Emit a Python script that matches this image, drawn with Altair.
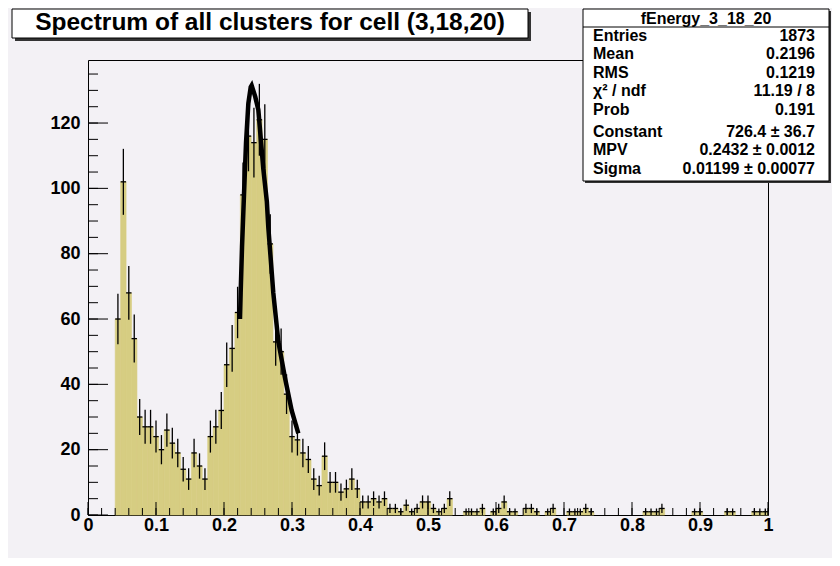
import altair as alt
import numpy as np
import pandas as pd

# ---------------- data ----------------
BIN_START = 0.04
BIN_WIDTH = 0.008
counts = [60, 102, 68, 54, 30, 27, 27, 24, 20, 26, 22, 19, 14, 11, 19, 15, 11, 24, 27, 32,
          46, 51, 62, 98, 116, 114, 121, 115, 83, 53, 50, 37, 24, 23, 19, 17, 11, 9, 18, 10,
          10, 7, 8, 11, 8, 4, 4, 5, 4, 5, 2, 2, 1, 3, 1, 2, 4, 4, 2, 1,
          2, 5, 0, 0, 1, 1, 1, 2, 0, 1, 2, 4, 1, 1, 0, 2, 2, 1, 0, 1,
          2, 0, 0, 1, 1, 1, 2, 1, 0, 0, 0, 0, 0, 0, 0, 0, 0, 1, 1, 1,
          2, 0, 0, 0, 0, 0, 1, 1, 0, 0, 0, 0, 1, 1, 0, 0, 0, 1, 1, 1]

fit_x = [0.2235, 0.2245, 0.2265, 0.2294, 0.2324, 0.2358, 0.2393, 0.2407, 0.2430,
         0.2460, 0.2505, 0.2578, 0.2630, 0.2652, 0.2725, 0.2800, 0.2897, 0.2995, 0.3093]
fit_y = [60, 68, 82, 98, 114, 126, 131, 131.5, 130,
         128, 124, 106, 96, 88, 68, 53, 42, 32, 25]

x_major = [0, 0.1, 0.2, 0.3, 0.4, 0.5, 0.6, 0.7, 0.8, 0.9, 1.0]
x_minor = [round(0.02 * i, 2) for i in range(51)]
y_major = [0, 20, 40, 60, 80, 100, 120]
y_minor = list(range(0, 140, 5))

title_text = "Spectrum of all clusters for cell (3,18,20)"
stat_header = "fEnergy_3_18_20"
stat_names = ["Entries", "Mean", "RMS", "χ² / ndf", "Prob", "Constant", "MPV", "Sigma"]
stat_values = ["1873", "0.2196", "0.1219", "11.19 / 8", "0.191",
               "726.4 ± 36.7", "0.2432 ± 0.0012", "0.01199 ± 0.00077"]

# ---------------- tables ----------------
n = np.array(counts, dtype=float)
lo = BIN_START + BIN_WIDTH * np.arange(len(counts))
hist = pd.DataFrame({"lo": lo, "hi": lo + BIN_WIDTH, "c": lo + BIN_WIDTH / 2, "n": n})
hist = hist[hist.n > 0].copy()
hist["base"] = 0.0
hist["elo"] = hist.n - np.sqrt(hist.n)
hist["ehi"] = hist.n + np.sqrt(hist.n)
fit = pd.DataFrame({"x": fit_x, "y": fit_y})
dummy = pd.DataFrame({"a": [0]})

# ---------------- style ----------------
W, H = 680, 455
YMAX = 139.3
BG = "#f3f1f5"
FILL = "#d6cd82"
FONT = "Liberation Sans"

xs = alt.Scale(domain=[0, 1], nice=False, zero=False)
ys = alt.Scale(domain=[0, YMAX], nice=False)

x_axis = alt.Axis(values=x_major, labelExpr="format(datum.value, '~g')", title=None,
                  ticks=False, tickSize=0, domain=False, grid=False, labelPadding=1,
                  labelFontSize=18, labelFont=FONT, labelFontWeight="bold", labelColor="black",
                  labelFlush=False)
y_axis = alt.Axis(values=y_major, format="d", title=None, ticks=False, tickSize=0,
                  domain=False, grid=False, labelPadding=8, labelFontSize=18, labelFont=FONT,
                  labelFontWeight="bold", labelColor="black")

bars = alt.Chart(hist).mark_rect(color=FILL, stroke=FILL, strokeWidth=0.6).encode(
    x=alt.X("lo:Q", scale=xs, axis=x_axis), x2="hi:Q",
    y=alt.Y("n:Q", scale=ys, axis=y_axis), y2="base:Q")

err_v = alt.Chart(hist).mark_rule(color="black", strokeWidth=1.3).encode(
    x=alt.X("c:Q", scale=xs), y=alt.Y("elo:Q", scale=ys), y2="ehi:Q")
err_h = alt.Chart(hist).mark_rule(color="black", strokeWidth=1.3).encode(
    x=alt.X("lo:Q", scale=xs), x2="hi:Q", y=alt.Y("n:Q", scale=ys))

fit_line = alt.Chart(fit).mark_line(color="black", strokeWidth=4.5).encode(
    x=alt.X("x:Q", scale=xs), y=alt.Y("y:Q", scale=ys))

ytm = alt.Chart(pd.DataFrame({"v": y_major})).mark_rule(color="black", strokeWidth=1).encode(
    y=alt.Y("v:Q", scale=ys), x=alt.value(0), x2=alt.value(20))
ytn = alt.Chart(pd.DataFrame({"v": y_minor})).mark_rule(color="black", strokeWidth=1).encode(
    y=alt.Y("v:Q", scale=ys), x=alt.value(0), x2=alt.value(10))
xtm = alt.Chart(pd.DataFrame({"v": x_major})).mark_rule(color="black", strokeWidth=1).encode(
    x=alt.X("v:Q", scale=xs), y=alt.value(H), y2=alt.value(H - 13))
xtn = alt.Chart(pd.DataFrame({"v": x_minor})).mark_rule(color="black", strokeWidth=1).encode(
    x=alt.X("v:Q", scale=xs), y=alt.value(H), y2=alt.value(H - 7))


def box(x1, x2, y1, y2, fill, stroke=None):
    kw = dict(fill=fill)
    if stroke:
        kw.update(stroke=stroke, strokeWidth=1)
    return alt.Chart(dummy).mark_rect(**kw).encode(
        x=alt.value(x1), x2=alt.value(x2), y=alt.value(y1), y2=alt.value(y2))


def label(txt, x, y, size, align="center"):
    return alt.Chart(dummy).mark_text(text=txt, font=FONT, fontSize=size, fontWeight="bold",
                                      align=align, baseline="middle", color="black").encode(
        x=alt.value(x), y=alt.value(y))


# title box (plot coordinates: page - (88, 60))
deco = [
    box(-73, 443, -48, -19, "#333333"),
    box(-76, 440, -51, -22, "white", "black"),
    label(title_text, 182, -37, 24.5),
]

# stats box
bx1, bx2, by1, by2 = 495, 741, -51, 121
deco += [
    box(bx1 + 2, bx2 + 2, by1 + 2, by2 + 2, "#333333"),
    box(bx1, bx2, by1, by2, "white", "black"),
    alt.Chart(dummy).mark_rule(color="black", strokeWidth=1).encode(
        x=alt.value(bx1), x2=alt.value(bx2), y=alt.value(-33)),
    label(stat_header, (bx1 + bx2) / 2, -41.5, 16),
]
row_y = [-24, -6, 13, 31, 50, 72, 90, 109]
for nm, val, yy in zip(stat_names, stat_values, row_y):
    deco.append(label(nm, bx1 + 10, yy, 16, "left"))
    deco.append(label(val, bx2 - 14, yy, 16, "right"))

chart = alt.layer(bars, err_v, err_h, fit_line, ytn, ytm, xtn, xtm, *deco).properties(
    width=W, height=H,
    autosize=alt.AutoSizeParams(type="none"),
    padding={"left": 80, "top": 52, "right": 64, "bottom": 43},
    background=BG,
).configure_view(stroke="black", strokeWidth=1, fill=BG)

chart.save("out.html", embed_options={"renderer": "svg", "actions": False})
